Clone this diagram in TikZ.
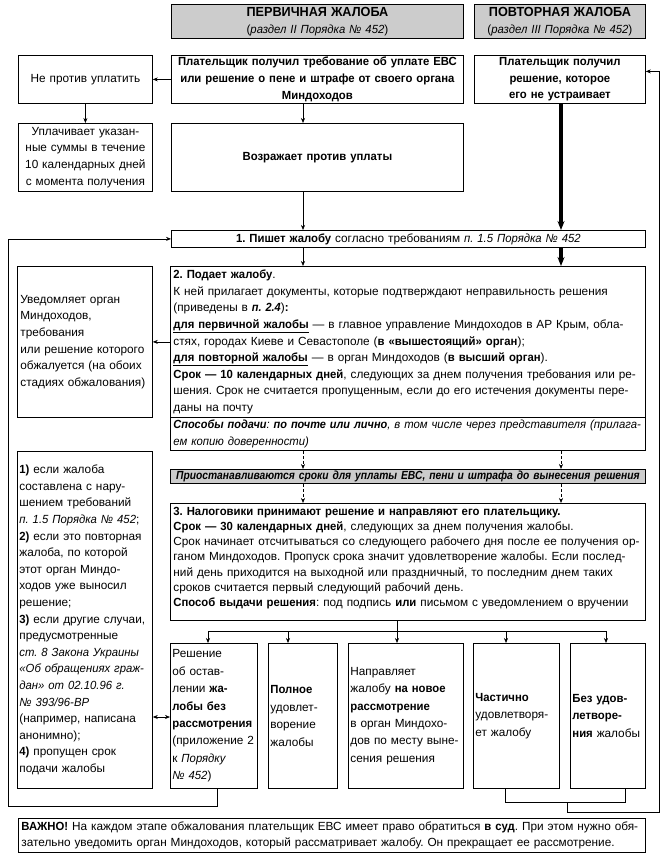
\documentclass[tikz,border=0pt]{standalone}
\usepackage{fontspec}
\setmainfont{Liberation Sans}[BoldFeatures={FakeStretch=0.96},ItalicFeatures={FakeStretch=0.96},BoldItalicFeatures={FakeStretch=0.93}]
\newfontfamily\prfont{Liberation Sans}[FakeStretch=0.87]
\usetikzlibrary{arrows.meta}
\definecolor{hdr}{gray}{0.80}
\frenchspacing
\begin{document}
\begin{tikzpicture}[x=1pt,y=-1pt,
  box/.style={draw, line width=0.8pt, inner xsep=3pt, inner ysep=1pt, anchor=north west,
    font=\fontsize{11.8}{16.6}\selectfont},
  arr/.style={-{Stealth[length=5pt,width=4pt]}, line width=0.6pt},
  darr/.style={{Stealth[length=5pt,width=4pt]}-{Stealth[length=5pt,width=4pt]}, line width=0.6pt},
  thk/.style={-{Stealth[length=9pt,width=7pt]}, line width=3.8pt},
  dsh/.style={-{Stealth[length=5pt,width=4pt]}, line width=0.6pt, dashed, dash pattern=on 3pt off 2pt},
  ln/.style={line width=0.6pt}]
\fill[white] (0,0) rectangle (665,859);
\useasboundingbox (0,0) rectangle (665,859);

% headers
\node[box, fill=hdr, minimum width=292pt, minimum height=34pt, text width=286pt, align=center] (hA) at (171,4)
  {{\fontsize{13.2}{16}\selectfont\textbf{ПЕРВИЧНАЯ ЖАЛОБА}}\\(\textit{раздел II Порядка № 452})};
\node[box, fill=hdr, minimum width=171pt, minimum height=34pt, text width=165pt, align=center] (hB) at (474,4)
  {{\fontsize{13.2}{16}\selectfont\textbf{ПОВТОРНАЯ ЖАЛОБА}}\\(\textit{раздел III Порядка № 452})};

% row 2
\node[box, minimum width=134pt, minimum height=48pt, text width=128pt, align=center] (np) at (18,55)
  {Не против уплатить};
\node[box, minimum width=292pt, minimum height=48pt, text width=286pt, align=center] (cb) at (171,55)
  {\textbf{Плательщик получил требование об уплате ЕВС}\\\textbf{или решение о пене и штрафе от своего органа}\\\textbf{Миндоходов}};
\node[box, minimum width=171pt, minimum height=48pt, text width=165pt, align=center] (rb) at (474,55)
  {\textbf{Плательщик получил}\\\textbf{решение, которое}\\\textbf{его не устраивает}};

% row 3
\node[box, minimum width=134pt, minimum height=68pt, text width=128pt, align=center] (upl) at (18,123)
  {Уплачивает указан-\\ные суммы в течение\\10 календарных дней\\с момента получения};
\node[box, minimum width=292pt, minimum height=68pt, text width=286pt, align=center] (voz) at (171,123)
  {\textbf{Возражает против уплаты}};

% box 1
\node[box, minimum width=474pt, minimum height=17pt, text width=468pt, align=center, inner ysep=0pt] (b1) at (171,230)
  {\textbf{1. Пишет жалобу} согласно требованиям \textit{п. 1.5 Порядка № 452}};

% box 2
\node[box, minimum width=135pt, minimum height=151pt, text width=129pt, align=left] (uved) at (17,266)
  {Уведомляет орган\\Миндоходов,\\требования\\или решение которого\\обжалуется (на обоих\\стадиях обжалования)};
\node[box, minimum width=475pt, minimum height=151pt, text width=469pt, align=left] (b2) at (170,266)
  {\textbf{2. Подает жалобу}.\\
   К ней прилагает документы, которые подтверждают неправильность решения\\
   (приведены в \textbf{\textit{п. 2.4}})\textbf{:}\\
   \underline{\textbf{для первичной жалобы}} — в главное управление Миндоходов в АР Крым, обла-\\
   стях, городах Киеве и Севастополе (\textbf{в «вышестоящий» орган});\\
   \underline{\textbf{для повторной жалобы}} — в орган Миндоходов (\textbf{в высший орган}).\\
   \textbf{Срок — 10 календарных дней}, следующих за днем получения требования или ре-\\
   шения. Срок не считается пропущенным, если до его истечения документы пере-\\
   даны на почту};
\node[box, minimum width=475pt, minimum height=33pt, text width=469pt, align=left] (b2s) at (170,417)
  {\textit{\textbf{Способы подачи}: \textbf{по почте или лично}, в том числе через представителя (прилага-}\\
   \textit{ем копию доверенности)}};

% reasons
\node[box, minimum width=135pt, minimum height=337pt, text width=131pt, inner xsep=2pt, align=left,
  font=\fontsize{11.8}{16.6}\selectfont] (reas) at (17,451)
  {\textbf{1)} если жалоба\\составлена с нару-\\шением требований\\\textit{п. 1.5 Порядка № 452};\\
   \textbf{2)} если это повторная\\жалоба, по которой\\этот орган Миндо-\\ходов уже выносил\\решение;\\
   \textbf{3)} если другие случаи,\\предусмотренные\\\textit{ст. 8 Закона Украины}\\
   \textit{«Об обращениях граж-}\\\textit{дан» от 02.10.96 г.}\\\textit{№ 393/96-ВР}\\
   (например, написана\\анонимно);\\\textbf{4)} пропущен срок\\подачи жалобы};

% suspension
\node[box, fill=hdr, minimum width=475pt, minimum height=14pt, text width=469pt, align=center, inner ysep=0pt] (pr) at (170,469)
  {{\prfont\bfseries\itshape Приостанавливаются сроки для уплаты ЕВС, пени и штрафа до вынесения решения}};

% box 3
\node[box, minimum width=475pt, minimum height=117pt, text width=469pt, align=left,
  font=\fontsize{11.8}{15.2}\selectfont] (b3) at (170,503)
  {\textbf{3. Налоговики принимают решение и направляют его плательщику.}\\
   \textbf{Срок — 30 календарных дней}, следующих за днем получения жалобы.\\
   Срок начинает отсчитываться со следующего рабочего дня после ее получения ор-\\
   ганом Миндоходов. Пропуск срока значит удовлетворение жалобы. Если послед-\\
   ний день приходится на выходной или праздничный, то последним днем таких\\
   сроков считается первый следующий рабочий день.\\
   \textbf{Способ выдачи решения}: под подпись \textbf{или} письмом с уведомлением о вручении\\[-5pt]\mbox{}};

% bottom boxes
\tikzset{bot/.style={box, minimum height=145pt, align=left, inner xsep=2pt, font=\fontsize{11.8}{17.4}\selectfont}}
\node[bot, minimum width=87pt, text width=83pt] (resh) at (170,643)
  {Решение\\об остав-\\лении \textbf{жа-}\\\textbf{лобы без}\\\textbf{рассмотрения}\\(приложение 2\\к \textit{Порядку}\\\textit{№ 452})};
\node[bot, minimum width=69pt, text width=65pt] (poln) at (268,643)
  {\textbf{Полное}\\удовлет-\\ворение\\жалобы};
\node[bot, minimum width=115pt, text width=111pt] (napr) at (348,643)
  {Направляет\\жалобу \textbf{на новое}\\\textbf{рассмотрение}\\в орган Миндохо-\\дов по месту выне-\\сения решения};
\node[bot, minimum width=86pt, text width=82pt] (chast) at (473,643)
  {\textbf{Частично}\\удовлетворя-\\ет жалобу};
\node[bot, minimum width=75pt, text width=71pt] (bez) at (570,643)
  {\textbf{Без удов-}\\\textbf{летворе-}\\\textbf{ния} жалобы};

% important
\node[box, minimum width=627pt, minimum height=34pt, text width=621pt, align=left,
  font=\fontsize{11.8}{16}\selectfont] (vazh) at (18,818)
  {\textbf{ВАЖНО!} На каждом этапе обжалования плательщик ЕВС имеет право обратиться \textbf{в суд}. При этом нужно обя-\\
   зательно уведомить орган Миндоходов, который рассматривает жалобу. Он прекращает ее рассмотрение.};

% coordinates
\coordinate (xA) at (303,0);
\coordinate (xB) at (561,0);
\coordinate (xL) at (217,0);
\coordinate (lp) at (8,806);
\coordinate (rp) at (659,812);
\coordinate (brkA) at (505,802);
\coordinate (brkB) at (625,802);
\coordinate (brkM) at (567,802);
\coordinate (yR) at (0,717);
\coordinate (d1) at (208,631);
\coordinate (d2) at (288,631);
\coordinate (d3) at (397,631);
\coordinate (d4) at (506,631);
\coordinate (d5) at (606,631);

% connectors
\draw[arr] (cb.west) -- (np.east);
\draw[arr] (np.south) -- (upl.north);
\draw[arr] (cb.south -| xA) -- (voz.north -| xA);
\draw[arr] (voz.south -| xA) -- (b1.north -| xA);
\draw[thk] (rb.south -| xB) -- (b1.north -| xB);
\draw[arr] (b1.south -| xA) -- (b2.north -| xA);
\draw[thk] (b1.south -| xB) -- (b2.north -| xB);
\draw[arr] (b2.west) -- (uved.east);
\draw[dsh] (b2s.south -| xA) -- (pr.north -| xA);
\draw[dsh] (b2s.south -| xB) -- (pr.north -| xB);
\draw[dsh] (pr.south -| xA) -- (b3.north -| xA);
\draw[dsh] (pr.south -| xB) -- (b3.north -| xB);
\draw[ln] (b3.south -| d3) -- (d3);
\draw[ln] (d1) -- (d5);
\draw[arr] (d1) -- (d1 |- resh.north);
\draw[arr] (d2) -- (d2 |- poln.north);
\draw[arr] (d3) -- (d3 |- napr.north);
\draw[arr] (d4) -- (d4 |- chast.north);
\draw[arr] (d5) -- (d5 |- bez.north);
\draw[darr] (yR -| reas.east) -- (yR -| resh.west);
\draw[arr] (resh.south -| xL) |- (lp) |- (b1.west);
\draw[ln] (brkA |- chast.south) -- (brkA) -- (brkB) -- (brkB |- bez.south);
\draw[arr] (brkM) |- (rp) |- ([yshift=8pt]rb.east);
\end{tikzpicture}
\end{document}
